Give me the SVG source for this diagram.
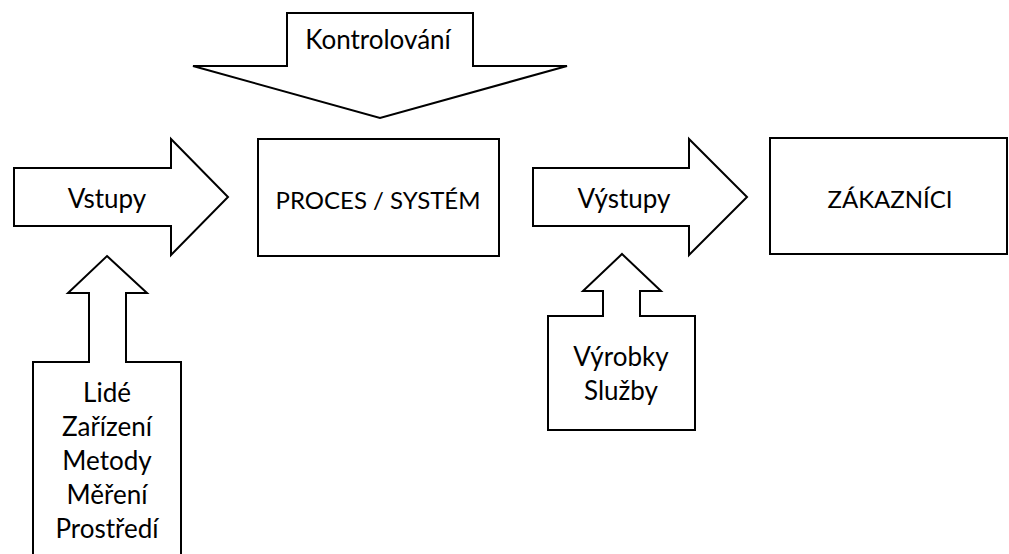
<svg xmlns="http://www.w3.org/2000/svg" width="1009" height="554" viewBox="0 0 1009 554">
<style>
.s{fill:#fff;stroke:#000;stroke-width:2;stroke-linejoin:miter}
.t{font-family:Lato,"Liberation Sans",sans-serif;font-size:26px;fill:#000;text-anchor:middle}
.c{font-size:24px}
</style>
<rect width="1009" height="554" fill="#fff"/>
<g id="kontrolovani">
<path class="s" d="M287 13 H473 V66 H567 L380 118 L193 66 H287 Z"/>
<text class="t" x="378" y="49">Kontrolování</text>
</g>
<g id="vstupy">
<path class="s" d="M14 168 H171 V139 L228 197 L171 255 V226 H14 Z"/>
<text class="t" x="107" y="208">Vstupy</text>
</g>
<g id="proces">
<rect class="s" x="258" y="139" width="241" height="117"/>
<text class="t c" x="378" y="209">PROCES / SYSTÉM</text>
</g>
<g id="vystupy">
<path class="s" d="M533 168 H689 V139 L747 197 L689 255 V226 H533 Z"/>
<text class="t" x="624" y="208">Výstupy</text>
</g>
<g id="zakaznici">
<rect class="s" x="770" y="138" width="237" height="116"/>
<text class="t c" x="890" y="208">ZÁKAZNÍCI</text>
</g>
<g id="zdroje">
<path class="s" d="M107 256 L147 293 H126 V362 H181 V560 H33 V362 H89 V293 H68 Z"/>
<text class="t" x="107" y="402">Lidé</text>
<text class="t" x="107" y="436">Zařízení</text>
<text class="t" x="107" y="470">Metody</text>
<text class="t" x="107" y="504">Měření</text>
<text class="t" x="107" y="538">Prostředí</text>
</g>
<g id="vyrobky">
<path class="s" d="M622 254 L661 291 H640 V316 H695 V430 H548 V316 H603 V291 H583 Z"/>
<text class="t" x="621" y="366">Výrobky</text>
<text class="t" x="621" y="400">Služby</text>
</g>
<g id="connectors"></g>
</svg>
